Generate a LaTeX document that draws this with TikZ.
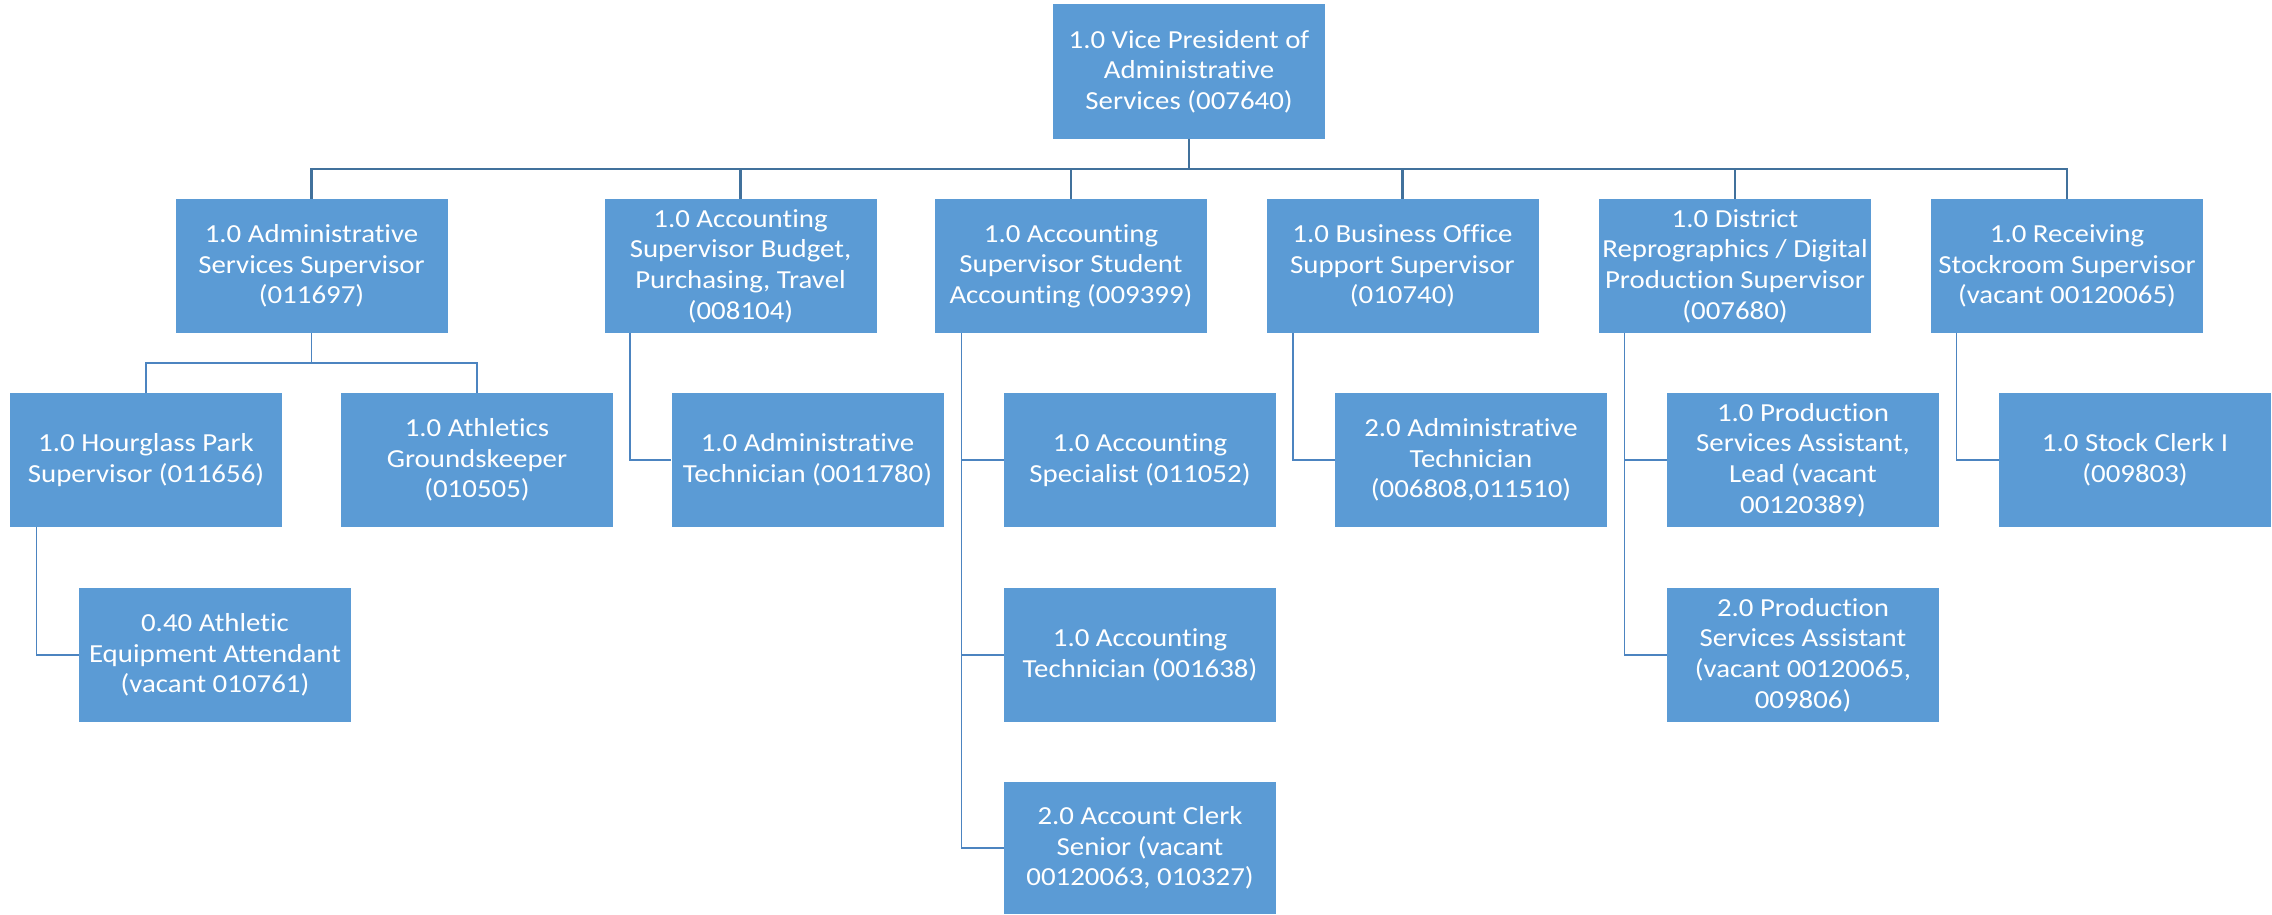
\documentclass[tikz,border=0pt]{standalone}
\usepackage{fontspec}
\setmainfont{Carlito}[FakeStretch=1.11,Ligatures=NoCommon]
\definecolor{boxblue}{RGB}{91,155,213}
\definecolor{busblue}{RGB}{65,113,156}
\definecolor{linkblue}{RGB}{76,132,192}
\begin{document}
\begin{tikzpicture}[x=0.5pt,y=-0.5pt,
  box/.style={rectangle,fill=boxblue,text=white,inner sep=0pt,
    minimum width=136pt,minimum height=67pt,align=center,
    font=\fontsize{13pt}{15.3pt}\selectfont},
  bus/.style={draw=busblue,line width=1.1pt},
  link/.style={draw=linkblue,line width=0.7pt}]
\useasboundingbox (0,0) rectangle (2272,915);
% top
\node[box,minimum height=67.5pt] (top) at (1189,71.5) {1.0 Vice President of\\Administrative\\Services (007640)};
% level 1
\node[box] (A) at (311.5,266) {1.0 Administrative\\Services Supervisor\\(011697)};
\node[box] (B) at (740.5,266) {1.0 Accounting\\Supervisor Budget,\\Purchasing, Travel\\(008104)};
\node[box] (C) at (1071,266) {1.0 Accounting\\Supervisor Student\\Accounting (009399)};
\node[box] (D) at (1402.5,266) {1.0 Business Office\\Support Supervisor\\(010740)};
\node[box] (E) at (1735,266) {1.0 District\\Reprographics / Digital\\Production Supervisor\\(007680)};
\node[box] (F) at (2067,266) {1.0 Receiving\\Stockroom Supervisor\\(vacant 00120065)};
% level 2
\node[box] (H) at (146,460) {1.0 Hourglass Park\\Supervisor (011656)};
\node[box] (G) at (477,460) {1.0 Athletics\\Groundskeeper\\(010505)};
\node[box] (AT) at (807.5,460) {1.0 Administrative\\Technician (0011780)};
\node[box] (AS) at (1140,460) {1.0 Accounting\\Specialist (011052)};
\node[box] (AT2) at (1471,460) {2.0 Administrative\\Technician\\(006808,011510)};
\node[box] (PL) at (1803,460) {1.0 Production\\Services Assistant,\\Lead (vacant\\00120389)};
\node[box] (SC) at (2135,460) {1.0 Stock Clerk I\\(009803)};
% level 3
\node[box] (EQ) at (215,655) {0.40 Athletic\\Equipment Attendant\\(vacant 010761)};
\node[box] (ATC) at (1140,655) {1.0 Accounting\\Technician (001638)};
\node[box] (PA) at (1803,655) {2.0 Production\\Services Assistant\\(vacant 00120065,\\009806)};
% level 4
\node[box,minimum height=66pt] (ACS) at (1140,848) {2.0 Account Clerk\\Senior (vacant\\00120063, 010327)};
% bus
\coordinate (bus) at (1189,169);
\foreach \c in {A,B,C,D,E,F}
  \draw[bus] (top.south) -- (top.south |- bus) -| (\c.north);
% admin services sub-bus
\coordinate (abus) at (311.5,363);
\foreach \c in {H,G}
  \draw[link] (A.south) -- (A.south |- abus) -| (\c.north);
% side connectors
\draw[link] ([xshift=13pt]B.south west) |- (AT.west);
\draw[link] ([xshift=13.5pt]C.south west) |- (AS.west);
\draw[link] ([xshift=13.5pt]C.south west) |- (ATC.west);
\draw[link] ([xshift=13.5pt]C.south west) |- (ACS.west);
\draw[link] ([xshift=13.5pt]D.south west) |- (AT2.west);
\draw[link] ([xshift=13pt]E.south west) |- (PL.west);
\draw[link] ([xshift=13pt]E.south west) |- (PA.west);
\draw[link] ([xshift=13pt]F.south west) |- (SC.west);
\draw[link] ([xshift=13.5pt]H.south west) |- (EQ.west);
\end{tikzpicture}
\end{document}
